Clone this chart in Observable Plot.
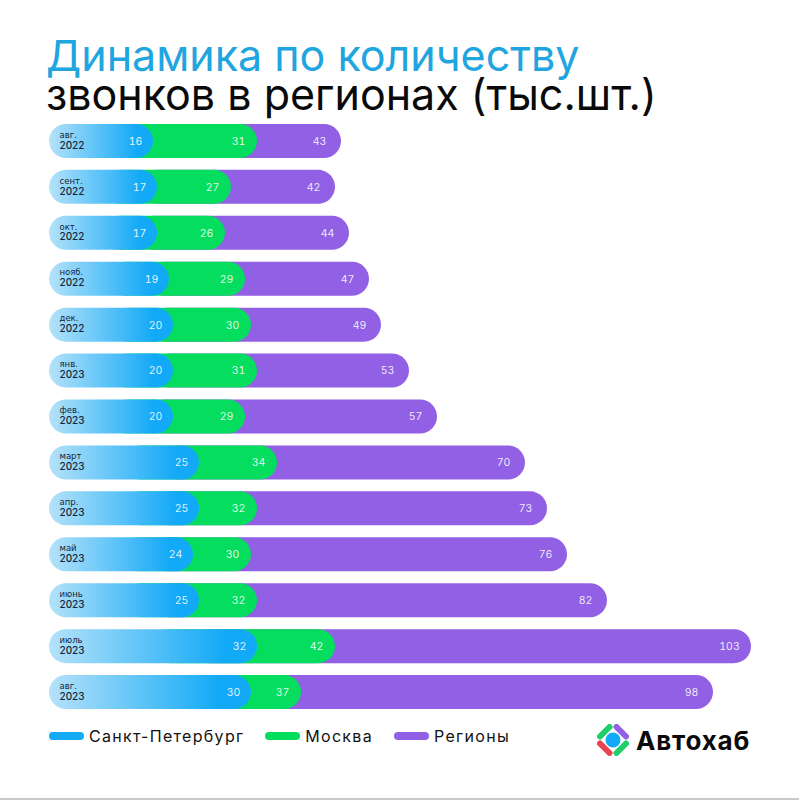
<!DOCTYPE html>
<html lang="ru"><head><meta charset="utf-8">
<script src="https://cdn.jsdelivr.net/npm/d3@7"></script>
<script src="https://cdn.jsdelivr.net/npm/@observablehq/plot@0.6"></script>
<style>
html,body{margin:0;padding:0;background:#fff;width:799px;height:800px;overflow:hidden;font-family:Inter,Roboto,sans-serif}
#page{position:relative;width:799px;height:800px;border-bottom:2px solid #c9c9c9;box-sizing:border-box}
#title{position:relative;z-index:1;height:112px;box-sizing:border-box;padding:36px 0 0 46px;font-size:43px;line-height:39px;font-weight:400;color:#0a0a0a}
#title span{color:#1fa5e0;display:block}
#chart svg{display:block}
#foot{position:relative;display:flex;align-items:center;height:30px;padding-left:49px;font-size:16px;color:#111;letter-spacing:1.3px}
.sw{width:35px;height:8px;border-radius:4px;margin-right:5px}
.it{display:flex;align-items:center;margin-right:21px}
#logo{position:absolute;left:597px;top:3px;display:flex;align-items:center;font-weight:700;font-size:26px;letter-spacing:.8px;color:#0a0a0a}
#logo svg{margin-right:7px}
</style></head><body>
<div id="page">
<div id="title"><span>Динамика по количеству</span>звонков в регионах (тыс.шт.)</div>
<div id="chart"></div>
<div id="foot"></div>
</div>
<script>
const months = ["авг.","сент.","окт.","нояб.","дек.","янв.","фев.","март","апр.","май","июнь","июль","авг."];
const years = [2022,2022,2022,2022,2022,2023,2023,2023,2023,2023,2023,2023,2023];
// printed values, thousand calls
const spb = [16,17,17,19,20,20,20,25,25,24,25,32,30];
const msk = [31,27,26,29,30,31,29,34,32,30,32,42,37];
const reg = [43,42,44,47,49,53,57,70,73,76,82,103,98];
// the original's bar lengths are not proportional to its labels: cumulative lengths as drawn
const spbDrawn = [26,27,27,30,31,31,31,37.5,37.5,36,37.5,52,50.5];
const mskDrawn = [52,45.5,44,49,50.5,52,49,57,52,50.5,52,71.5,63];
const regDrawn = [73,71.5,75,80,83,90,97,119,124.5,129.5,139.5,175.5,166];
const seriesNames = ["Санкт-Петербург","Москва","Регионы"];
const colors = ["#12a9f7","#05dd5e","#9160e4"];

const rows = months.map((m,i)=>({key:i,month:m,year:years[i],spb:spb[i],msk:msk[i],reg:reg[i],a:spbDrawn[i],b:mskDrawn[i],c:regDrawn[i]}));
const gradient = () => {
  const s = d3.create("svg:defs");
  const g = s.append("linearGradient").attr("id","spbGrad");
  g.append("stop").attr("offset","0%").attr("stop-color","#b5e2f9");
  g.append("stop").attr("offset","85%").attr("stop-color",colors[0]);
  g.append("stop").attr("offset","100%").attr("stop-color",colors[0]);
  return s.node();
};
const label = (v,end,dx)=>Plot.text(rows,{x:end,y:"key",text:v,dx,fill:"#fff",fillOpacity:0.88,fontSize:10.5,fontWeight:400,fontFamily:"Inter,sans-serif"});
const chart = Plot.plot({
  width:799,height:609,marginLeft:49,marginRight:0,marginTop:0,marginBottom:0,
  style:{background:"transparent"},
  x:{domain:[0,187.5],axis:null},
  y:{domain:rows.map(d=>d.key),axis:null,padding:0.26,align:0.5,round:false},
  marks:[
    gradient,
    // the hidden left ends start inside the layer above, so they do not fringe the blue cap
    Plot.barX(rows,{x1:d=>d.b/2,x2:"c",y:"key",fill:colors[2],rx:17}),
    Plot.barX(rows,{x1:d=>d.a/2,x2:"b",y:"key",fill:colors[1],rx:17}),
    Plot.barX(rows,{x1:0,x2:"a",y:"key",fill:"url(#spbGrad)",rx:17}),
    label("spb","a",-18),label("msk","b",-19),label("reg","c",-22),
    Plot.text(rows,{frameAnchor:"left",y:"key",dx:10,dy:-6.5,text:"month",textAnchor:"start",fill:"#16263a",fontSize:8.5,fontWeight:400,fontFamily:"DejaVu Sans,sans-serif"}),
    Plot.text(rows,{frameAnchor:"left",y:"key",dx:10,dy:4,text:d=>String(d.year),textAnchor:"start",fill:"#16263a",fontSize:10,fontWeight:500,fontFamily:"Inter,sans-serif"})
  ]
});
document.getElementById("chart").append(chart);
const foot=document.getElementById("foot");
foot.innerHTML=seriesNames.map((n,i)=>`<div class="it"><div class="sw" style="background:${colors[i]}"></div>${n}</div>`).join("")+
`<div id="logo"><svg width="32" height="32" viewBox="-16 -16 32 32" stroke-width="6" stroke-linecap="round">
<line x1="-3.5" y1="-13" x2="-13" y2="-3.5" stroke="#1fcf6b"/>
<line x1="3.5" y1="-13" x2="13" y2="-3.5" stroke="#9160e4"/>
<line x1="-3.5" y1="13" x2="-13" y2="3.5" stroke="#e8434f"/>
<line x1="3.5" y1="13" x2="13" y2="3.5" stroke="#1fcf6b"/>
<circle r="7.5" fill="#12a9f7"/></svg>Автохаб</div>`;
</script>
</body></html>
